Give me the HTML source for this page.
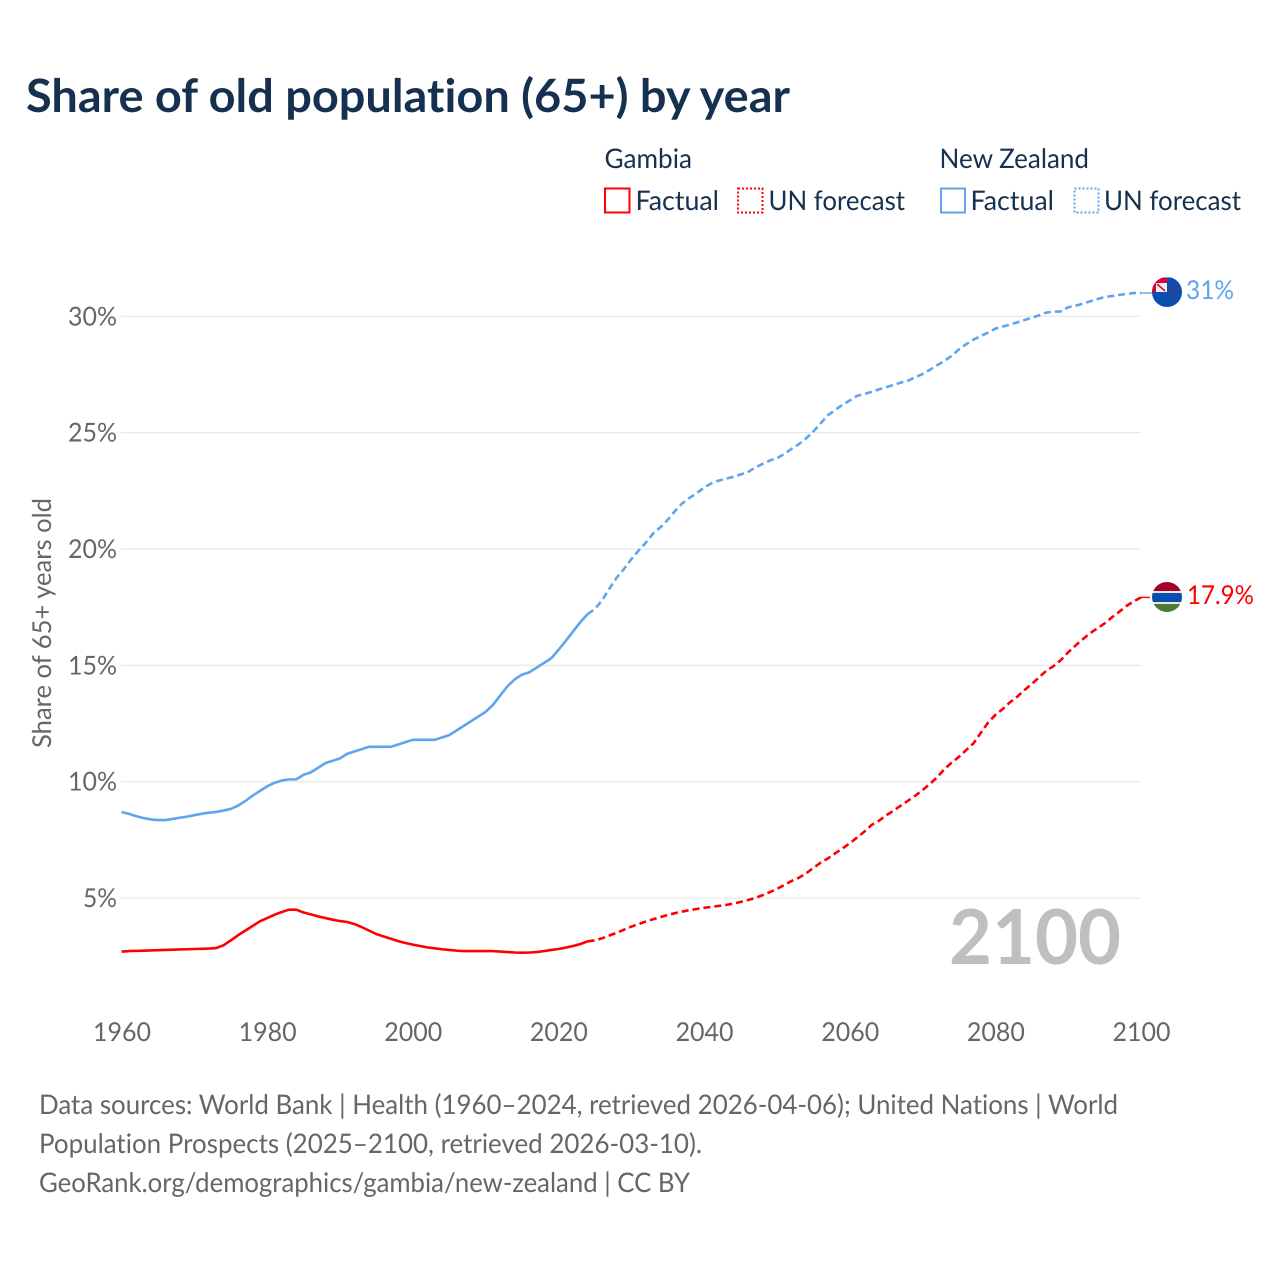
<!DOCTYPE html>
<html lang="en">
<head>
<meta charset="utf-8">
<title>Share of old population (65+) by year</title>
<style>
html,body{margin:0;padding:0;background:#fff;}
svg{display:block;}
text{font-family:"Lato","Carlito","Liberation Sans",sans-serif;text-rendering:geometricPrecision;font-variant-ligatures:none;font-feature-settings:"liga" 0,"clig" 0;}
</style>
</head>
<body>
<svg id="chart" xmlns="http://www.w3.org/2000/svg" width="1280" height="1280" viewBox="0 0 1280 1280">
  <defs>
    <clipPath id="nz-clip"><circle cx="1167" cy="292" r="15"/></clipPath>
    <clipPath id="gm-clip"><circle cx="1167" cy="597" r="15"/></clipPath>
  </defs>
  <rect width="1280" height="1280" fill="#fff"/>
  <text x="26" y="112" font-size="46" font-weight="700" fill="#16304f" textLength="764" lengthAdjust="spacingAndGlyphs">Share of old population (65+) by year</text>

  <g font-size="27" fill="#16304f">
    <text x="604.5" y="168" textLength="87.5" lengthAdjust="spacingAndGlyphs">Gambia</text>
    <text x="939.5" y="168" textLength="149.5" lengthAdjust="spacingAndGlyphs">New Zealand</text>
    <rect x="605" y="188.5" width="24.5" height="24" fill="none" stroke="#ff0000" stroke-width="2"/>
    <text x="635.5" y="210" textLength="83.5" lengthAdjust="spacingAndGlyphs">Factual</text>
    <rect x="738" y="188.5" width="24.5" height="24" fill="none" stroke="#ff0000" stroke-width="2" stroke-dasharray="2 2"/>
    <text x="768.5" y="210" textLength="136.5" lengthAdjust="spacingAndGlyphs">UN forecast</text>
    <rect x="941" y="188.5" width="24" height="24" fill="none" stroke="#5ea5ee" stroke-width="2"/>
    <text x="970.5" y="210" textLength="83.5" lengthAdjust="spacingAndGlyphs">Factual</text>
    <rect x="1074.5" y="188.5" width="24" height="24" fill="none" stroke="#5ea5ee" stroke-width="2" stroke-dasharray="2 2"/>
    <text x="1104" y="210" textLength="137" lengthAdjust="spacingAndGlyphs">UN forecast</text>
  </g>

  <g id="grid"></g>
  <g id="yticks" font-size="26" fill="#666"></g>
  <g id="xticks" font-size="26" fill="#666"></g>
  <text transform="translate(51,748) rotate(-90)" font-size="26" fill="#666" textLength="250" lengthAdjust="spacingAndGlyphs">Share of 65+ years old</text>

  <text x="949" y="964" font-size="76" font-weight="700" fill="#bfbfbf" textLength="172" lengthAdjust="spacingAndGlyphs">2100</text>

  <g id="series"></g>

  <g clip-path="url(#nz-clip)">
    <rect x="1150" y="275" width="34" height="34" fill="#0a4fb0"/>
    <rect x="1150" y="275" width="34" height="2.5" fill="#ffffff"/>
    <rect x="1152" y="278" width="15" height="14" fill="#e4002b"/>
    <rect x="1156" y="283" width="11" height="9" fill="#eef0f6"/>
    <path d="M1157 284 L1165 291" stroke="#c8102e" stroke-width="1.6"/>
    <circle cx="1170" cy="291" r="1.1" fill="#e4002b"/>
    <circle cx="1178" cy="290" r="1" fill="#e4002b"/>
    <circle cx="1174" cy="285" r="1" fill="#e4002b"/>
    <circle cx="1174" cy="298" r="1.2" fill="#e4002b"/>
  </g>
  <g clip-path="url(#gm-clip)">
    <rect x="1150" y="580" width="34" height="11" fill="#a5002a"/>
    <rect x="1150" y="591" width="34" height="2" fill="#e6e6ea"/>
    <rect x="1150" y="593" width="34" height="9" fill="#0a4fb0"/>
    <rect x="1150" y="602" width="34" height="2" fill="#e6e6ea"/>
    <rect x="1150" y="604" width="34" height="10" fill="#4f7a33"/>
  </g>
  <text x="1186" y="299" font-size="26" fill="#5ea5ee" textLength="48" lengthAdjust="spacingAndGlyphs">31%</text>
  <text x="1187" y="604" font-size="26" fill="#ff0000" textLength="67" lengthAdjust="spacingAndGlyphs">17.9%</text>

  <g font-size="27" fill="#666">
    <text x="39" y="1114" textLength="1079" lengthAdjust="spacingAndGlyphs">Data sources: World Bank | Health (1960–2024, retrieved 2026-04-06); United Nations | World</text>
    <text x="39" y="1153" textLength="663" lengthAdjust="spacingAndGlyphs">Population Prospects (2025–2100, retrieved 2026-03-10).</text>
    <text x="39" y="1192" textLength="651" lengthAdjust="spacingAndGlyphs">GeoRank.org/demographics/gambia/new-zealand | CC BY</text>
  </g>
</svg>
<script>
const xTickYears = [1960, 1980, 2000, 2020, 2040, 2060, 2080, 2100];
const yTickValues = [5, 10, 15, 20, 25, 30];
const firstYear = 1960;
const forecastFirstYear = 2024;

const gambiaFactual = [2.7,2.72,2.73,2.74,2.75,2.76,2.77,2.78,2.79,2.8,2.81,2.82,2.83,2.85,2.97,3.18,3.4,3.6,3.8,4.0,4.14,4.28,4.4,4.5,4.5,4.38,4.3,4.21,4.14,4.07,4.01,3.97,3.88,3.75,3.6,3.45,3.35,3.25,3.15,3.07,3.0,2.94,2.88,2.84,2.8,2.77,2.74,2.72,2.72,2.72,2.72,2.72,2.7,2.68,2.66,2.65,2.66,2.68,2.72,2.77,2.81,2.87,2.94,3.02,3.14];
const gambiaForecast = [3.14,3.18,3.27,3.39,3.51,3.64,3.77,3.88,3.99,4.09,4.18,4.27,4.35,4.42,4.48,4.53,4.58,4.62,4.66,4.7,4.76,4.83,4.91,5.0,5.12,5.25,5.39,5.56,5.73,5.87,6.06,6.29,6.52,6.7,6.92,7.13,7.35,7.6,7.85,8.14,8.32,8.55,8.75,8.97,9.18,9.4,9.64,9.9,10.19,10.54,10.82,11.07,11.36,11.65,12.1,12.54,12.87,13.12,13.41,13.65,13.94,14.2,14.48,14.77,14.97,15.23,15.56,15.85,16.12,16.38,16.59,16.8,17.06,17.3,17.55,17.75,17.92];
const nzFactual = [8.7,8.62,8.52,8.44,8.38,8.35,8.35,8.4,8.45,8.5,8.56,8.62,8.67,8.7,8.76,8.83,8.97,9.17,9.4,9.6,9.8,9.95,10.05,10.1,10.1,10.3,10.4,10.6,10.8,10.9,11.0,11.2,11.3,11.4,11.5,11.5,11.5,11.5,11.6,11.7,11.8,11.8,11.8,11.8,11.9,12.0,12.2,12.4,12.6,12.8,13.0,13.3,13.7,14.1,14.4,14.6,14.7,14.9,15.1,15.3,15.66,16.05,16.45,16.85,17.2];
const nzForecast = [17.2,17.42,17.8,18.3,18.77,19.14,19.56,19.93,20.27,20.67,20.93,21.25,21.63,21.96,22.2,22.4,22.64,22.82,22.94,23.02,23.1,23.2,23.3,23.5,23.65,23.8,23.9,24.08,24.3,24.5,24.75,25.05,25.4,25.75,25.97,26.2,26.38,26.58,26.66,26.75,26.86,26.95,27.05,27.15,27.23,27.38,27.52,27.7,27.9,28.08,28.3,28.58,28.8,29.0,29.15,29.3,29.47,29.56,29.64,29.74,29.84,29.94,30.04,30.16,30.2,30.21,30.39,30.46,30.54,30.64,30.74,30.83,30.87,30.92,30.96,31.0,31.0];

const NS = 'http://www.w3.org/2000/svg';
function xScale(year) { return 121.5 + (year - 1960) * (1141 - 121.5) / 140; }
function yScale(value) { return 1014.4 - value * 23.27; }
function pathFor(values, startYear) {
  return values.map(function (v, i) {
    return (i ? 'L' : 'M') + xScale(startYear + i).toFixed(2) + ' ' + yScale(v).toFixed(2);
  }).join(' ');
}

const grid = document.getElementById('grid');
const yticks = document.getElementById('yticks');
yTickValues.forEach(function (v) {
  const line = document.createElementNS(NS, 'line');
  
  
  line.setAttribute('x1', 121);
  line.setAttribute('x2', 1141);
  line.setAttribute('y1', yScale(v));
  line.setAttribute('y2', yScale(v));
  line.setAttribute('stroke', '#e8e8e8');
  line.setAttribute('stroke-width', 1.2);
  grid.appendChild(line);
  const t = document.createElementNS(NS, 'text');
  
  
  const label = v + '%';
  t.textContent = label;
  t.setAttribute('x', 117 - (label.length === 3 ? 49 : 34));
  t.setAttribute('y', yScale(v) + 9);
  t.setAttribute('textLength', label.length === 3 ? 49 : 34);
  t.setAttribute('lengthAdjust', 'spacingAndGlyphs');
  yticks.appendChild(t);
});

const xticks = document.getElementById('xticks');
xTickYears.forEach(function (year) {
  const t = document.createElementNS(NS, 'text');
  
  
  t.textContent = String(year);
  t.setAttribute('x', xScale(year) - 29 + 0.5);
  t.setAttribute('y', 1041);
  t.setAttribute('textLength', 58);
  t.setAttribute('lengthAdjust', 'spacingAndGlyphs');
  xticks.appendChild(t);
});

const seriesGroup = document.getElementById('series');
function addLine(name, values, startYear, color, dashed) {
  const p = document.createElementNS(NS, 'path');
  
  
  p.setAttribute('d', pathFor(values, startYear));
  p.setAttribute('fill', 'none');
  p.setAttribute('stroke', color);
  p.setAttribute('stroke-width', 2.6);
  p.setAttribute('stroke-linejoin', 'round');
  if (dashed) p.setAttribute('stroke-dasharray', '7 4');
  seriesGroup.appendChild(p);
}
function addConnector(name, value, color, endX) {
  const l = document.createElementNS(NS, 'line');
  
  
  l.setAttribute('x1', xScale(2100));
  l.setAttribute('x2', endX);
  l.setAttribute('y1', yScale(value));
  l.setAttribute('y2', yScale(value));
  l.setAttribute('stroke', color);
  l.setAttribute('stroke-width', 1.4);
  seriesGroup.appendChild(l);
}
addLine('nz-factual-line', nzFactual, firstYear, '#5ea5ee', false);
addLine('nz-forecast-line', nzForecast, forecastFirstYear, '#5ea5ee', true);
addLine('gambia-factual-line', gambiaFactual, firstYear, '#ff0000', false);
addLine('gambia-forecast-line', gambiaForecast, forecastFirstYear, '#ff0000', true);
addConnector('nz-flag-connector', nzForecast[nzForecast.length - 1], '#5ea5ee', 1153);
addConnector('gambia-flag-connector', gambiaForecast[gambiaForecast.length - 1], '#ff0000', 1150);
</script>
</body>
</html>
